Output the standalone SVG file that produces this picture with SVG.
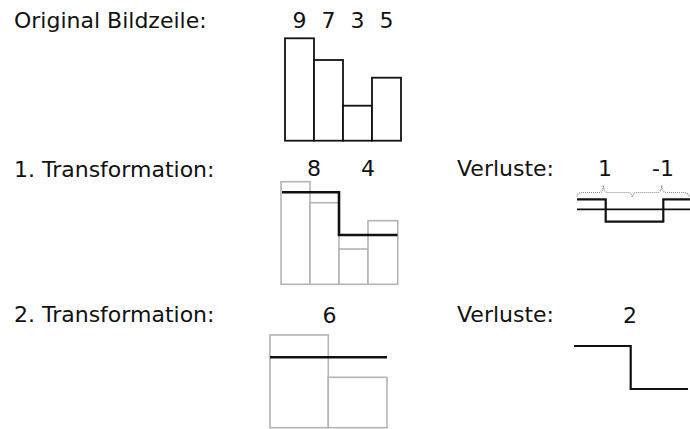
<svg xmlns="http://www.w3.org/2000/svg" width="690" height="429" viewBox="0 0 690 429">
<style>
text{font-family:"DejaVu Sans","Liberation Sans",sans-serif;font-size:22px;fill:#111}
.num{text-anchor:middle}
.bar{fill:#fff;stroke:#111;stroke-width:1.8}
.gbar{fill:#fff;stroke:#b4b4b4;stroke-width:1.6}
.avg{fill:none;stroke:#111;stroke-width:2.6}
.loss{fill:none;stroke:#111;stroke-width:2.2}
.zero{fill:none;stroke:#111;stroke-width:1.8}
.brace{fill:none;stroke:#888;stroke-width:1.2;stroke-dasharray:1 1}
</style>
<rect width="690" height="429" fill="#fff"/>
<g id="labels">
<text x="14" y="28">Original Bildzeile:</text>
<text x="14" y="177">1. Transformation:</text>
<text x="14" y="322">2. Transformation:</text>
<text x="457" y="176">Verluste:</text>
<text x="457" y="322">Verluste:</text>
</g>
<g id="original">
<text class="num" x="299.5" y="28">9</text>
<text class="num" x="328.5" y="28">7</text>
<text class="num" x="357.5" y="28">3</text>
<text class="num" x="386.5" y="28">5</text>
<rect class="bar" x="285" y="38.3" width="29" height="102.4"/>
<rect class="bar" x="314" y="60" width="29" height="80.7"/>
<rect class="bar" x="343" y="105.7" width="29" height="35"/>
<rect class="bar" x="372" y="77.7" width="29" height="63"/>
</g>
<g id="transform1">
<text class="num" x="314" y="176">8</text>
<text class="num" x="368" y="176">4</text>
<rect class="gbar" x="281" y="181.7" width="29" height="102.6"/>
<rect class="gbar" x="310" y="202.7" width="29" height="81.6"/>
<rect class="gbar" x="339" y="249" width="29" height="35.3"/>
<rect class="gbar" x="368" y="220.7" width="29.7" height="63.6"/>
<path class="avg" d="M282 192.3H339V235H397.5"/>
</g>
<g id="loss1">
<text class="num" x="605" y="176">1</text>
<text class="num" x="663" y="176">-1</text>
<path class="brace" d="M577 196.5Q577.5 192.5 582 192.5H600Q602.5 192.5 603.3 185.5Q604.2 192.5 607 192.5H628Q631.5 192.5 632.3 197.3Q633.2 192.5 637 192.5H658Q660.8 192.5 661.7 185.5Q662.6 192.5 665.5 192.5H684Q688.5 192.5 689 197"/>
<path class="zero" d="M577 209.3H690"/>
<path class="loss" d="M577 199.3H605.7V221.7H663.3V199.3H690"/>
</g>
<g id="transform2">
<text class="num" x="329.5" y="323">6</text>
<rect class="gbar" x="270" y="335" width="58.3" height="92.7"/>
<rect class="gbar" x="328.3" y="377.3" width="58.7" height="50.4"/>
<path class="avg" d="M270 357.3H387"/>
</g>
<g id="loss2">
<text class="num" x="630" y="323">2</text>
<path class="loss" d="M574 346H630.7V389H688"/>
</g>
</svg>
